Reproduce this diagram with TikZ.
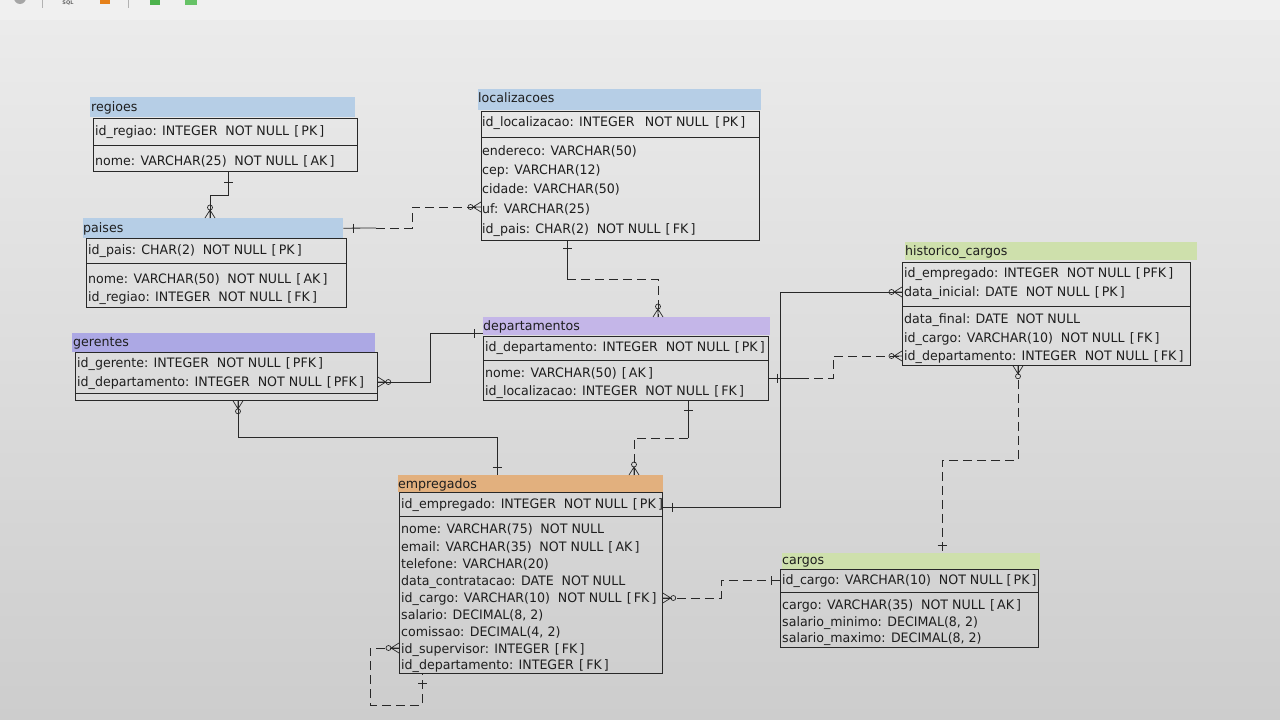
\documentclass[tikz,border=0pt]{standalone}
\usepackage{fontspec}
\setmainfont{DejaVu Sans}
\newfontfamily\rowfont[FakeStretch=0.97]{DejaVu Sans}
\usetikzlibrary{calc}
\definecolor{bgtop}{RGB}{236,236,236}
\definecolor{bgbot}{RGB}{205,205,205}
\definecolor{linec}{RGB}{40,40,40}
\definecolor{txt}{RGB}{30,30,30}
\definecolor{hblue}{RGB}{182,206,230}
\definecolor{hlav}{RGB}{196,182,232}
\definecolor{hviol}{RGB}{172,168,228}
\definecolor{horange}{RGB}{226,176,126}
\definecolor{hgreen}{RGB}{206,224,172}
\begin{document}
\begin{tikzpicture}[x=1pt,y=-1pt,
  hdr/.style={rectangle, inner sep=0, anchor=north west, draw=none},
  tbox/.style={rectangle, inner sep=0, anchor=north west, draw=linec, line width=0.8pt},
  row/.style={anchor=base west, inner sep=0, text=txt, font=\rowfont\fontsize{13}{15}\selectfont},
  sepline/.style={draw=linec, line width=0.8pt},
  conn/.style={draw=linec, line width=0.8pt},
  dconn/.style={conn, dash pattern=on 9pt off 5pt},
  crowpic/.pic={\draw[linec, line width=0.7pt] (0,-5) -- (8,0) -- (0,5) (0,0) -- (8,0); \draw[linec, line width=0.7pt] (10.5,0) circle (2.5);},
  barpic/.pic={\draw[linec, line width=0.8pt] (0,-4.5) -- (0,4.5);}
]
\useasboundingbox (0,0) rectangle (1280,720);
% background
\shade[top color=bgtop, bottom color=bgbot] (0,0) rectangle (1280,720);
\fill[white, opacity=0.25] (0,0) rectangle (1280,20);
\begin{scope}
\clip (0,0) rectangle (1280,720);
\fill[gray!70] (20,-2) circle (6);
\draw[gray!60, line width=0.8pt] (42,0) -- (42,8) (128,0) -- (128,8);
\fill[orange!60!brown] (100,0) rectangle (110,4);
\fill[green!40!gray] (150,0) rectangle (160,5);
\fill[green!60!black!60] (185,0) rectangle (197,5);
\end{scope}
\node[anchor=base, inner sep=0, font=\fontsize{5}{6}\selectfont\bfseries, text=gray!80!black] (sql) at (68,5) {SQL};

% ---------------- regioes
\node[hdr, fill=hblue, minimum width=265, minimum height=20] (regioes-h) at (90,97) {};
\node[row] (regioes-t) at (91,111) {regioes};
\node[tbox, minimum width=264, minimum height=53] (regioes) at (93,118) {};
\draw[sepline] (93,145) -- (357,145);
\node[row] (regioes-1) at (95,135) {id\_regiao: INTEGER\hspace{0.6em}NOT NULL\hspace{0.4em}[\,PK\,]};
\node[row] (regioes-2) at (95,165) {nome: VARCHAR(25)\hspace{0.6em}NOT NULL\hspace{0.4em}[\,AK\,]};

% ---------------- paises
\node[hdr, fill=hblue, minimum width=260, minimum height=20] (paises-h) at (83,218) {};
\node[row] (paises-t) at (83,232) {paises};
\node[tbox, minimum width=260, minimum height=69] (paises) at (86,238) {};
\draw[sepline] (86,263) -- (346,263);
\node[row] (paises-1) at (88,254) {id\_pais: CHAR(2)\hspace{0.6em}NOT NULL\hspace{0.4em}[\,PK\,]};
\node[row] (paises-2) at (88,283) {nome: VARCHAR(50)\hspace{0.6em}NOT NULL\hspace{0.4em}[\,AK\,]};
\node[row] (paises-3) at (88,301) {id\_regiao: INTEGER\hspace{0.6em}NOT NULL\hspace{0.4em}[\,FK\,]};

% ---------------- localizacoes
\node[hdr, fill=hblue, minimum width=283, minimum height=21] (localizacoes-h) at (478,89) {};
\node[row] (localizacoes-t) at (478,102) {localizacoes};
\node[tbox, minimum width=278, minimum height=129] (localizacoes) at (481,111) {};
\draw[sepline] (481,137) -- (759,137);
\node[row] (loc-1) at (482,126) {id\_localizacao: INTEGER\hspace{0.8em}NOT NULL\hspace{0.5em}[\,PK\,]};
\node[row] (loc-2) at (482,155) {endereco: VARCHAR(50)};
\node[row] (loc-3) at (482,174) {cep: VARCHAR(12)};
\node[row] (loc-4) at (482,193) {cidade: VARCHAR(50)};
\node[row] (loc-5) at (482,213) {uf: VARCHAR(25)};
\node[row] (loc-6) at (482,233) {id\_pais: CHAR(2)\hspace{0.6em}NOT NULL\hspace{0.4em}[\,FK\,]};

% ---------------- departamentos
\node[hdr, fill=hlav, minimum width=287, minimum height=18] (departamentos-h) at (483,317) {};
\node[row] (departamentos-t) at (483,330) {departamentos};
\node[tbox, minimum width=285, minimum height=64] (departamentos) at (483,336) {};
\draw[sepline] (483,360) -- (768,360);
\node[row] (dep-1) at (485,351) {id\_departamento: INTEGER\hspace{0.6em}NOT NULL\hspace{0.4em}[\,PK\,]};
\node[row] (dep-2) at (485,377) {nome: VARCHAR(50)\hspace{0.4em}[\,AK\,]};
\node[row] (dep-3) at (485,395) {id\_localizacao: INTEGER\hspace{0.6em}NOT NULL\hspace{0.4em}[\,FK\,]};

% ---------------- gerentes
\node[hdr, fill=hviol, minimum width=303, minimum height=19] (gerentes-h) at (72,333) {};
\node[row] (gerentes-t) at (73,346) {gerentes};
\node[tbox, minimum width=302, minimum height=48] (gerentes) at (75,352) {};
\draw[sepline] (75,393) -- (377,393);
\node[row] (ger-1) at (77,367) {id\_gerente: INTEGER\hspace{0.6em}NOT NULL\hspace{0.4em}[\,PFK\,]};
\node[row] (ger-2) at (77,386) {id\_departamento: INTEGER\hspace{0.6em}NOT NULL\hspace{0.4em}[\,PFK\,]};

% ---------------- empregados
\node[hdr, fill=horange, minimum width=265, minimum height=17] (empregados-h) at (398,475) {};
\node[row] (empregados-t) at (398,488) {empregados};
\node[tbox, minimum width=263, minimum height=181] (empregados) at (399,492) {};
\draw[sepline] (399,516) -- (662,516);
\node[row] (emp-1) at (401,508) {id\_empregado: INTEGER\hspace{0.6em}NOT NULL\hspace{0.4em}[\,PK\,]};
\node[row] (emp-2) at (401,533) {nome: VARCHAR(75)\hspace{0.6em}NOT NULL};
\node[row] (emp-3) at (401,551) {email: VARCHAR(35)\hspace{0.6em}NOT NULL\hspace{0.4em}[\,AK\,]};
\node[row] (emp-4) at (401,568) {telefone: VARCHAR(20)};
\node[row] (emp-5) at (401,585) {data\_contratacao: DATE\hspace{0.6em}NOT NULL};
\node[row] (emp-6) at (401,602) {id\_cargo: VARCHAR(10)\hspace{0.6em}NOT NULL\hspace{0.4em}[\,FK\,]};
\node[row] (emp-7) at (401,619) {salario: DECIMAL(8, 2)};
\node[row] (emp-8) at (401,636) {comissao: DECIMAL(4, 2)};
\node[row] (emp-9) at (401,653) {id\_supervisor: INTEGER\hspace{0.4em}[\,FK\,]};
\node[row] (emp-10) at (401,669) {id\_departamento: INTEGER\hspace{0.4em}[\,FK\,]};

% ---------------- historico_cargos
\node[hdr, fill=hgreen, minimum width=292, minimum height=18] (historico-h) at (905,242) {};
\node[row] (historico-t) at (905,255) {historico\_cargos};
\node[tbox, minimum width=288, minimum height=103] (historico) at (902,262) {};
\draw[sepline] (902,306) -- (1190,306);
\node[row] (his-1) at (904,277) {id\_empregado: INTEGER\hspace{0.6em}NOT NULL\hspace{0.4em}[\,PFK\,]};
\node[row] (his-2) at (904,296) {data\_inicial: DATE\hspace{0.6em}NOT NULL\hspace{0.4em}[\,PK\,]};
\node[row] (his-3) at (904,323) {data\_final: DATE\hspace{0.6em}NOT NULL};
\node[row] (his-4) at (904,342) {id\_cargo: VARCHAR(10)\hspace{0.6em}NOT NULL\hspace{0.4em}[\,FK\,]};
\node[row] (his-5) at (904,360) {id\_departamento: INTEGER\hspace{0.6em}NOT NULL\hspace{0.4em}[\,FK\,]};

% ---------------- cargos
\node[hdr, fill=hgreen, minimum width=258, minimum height=16] (cargos-h) at (782,553) {};
\node[row] (cargos-t) at (782,564) {cargos};
\node[tbox, minimum width=258, minimum height=78] (cargos) at (780,569) {};
\draw[sepline] (780,592) -- (1038,592);
\node[row] (car-1) at (782,584) {id\_cargo: VARCHAR(10)\hspace{0.6em}NOT NULL\hspace{0.3em}[\,PK\,]};
\node[row] (car-2) at (782,609) {cargo: VARCHAR(35)\hspace{0.6em}NOT NULL\hspace{0.4em}[\,AK\,]};
\node[row] (car-3) at (782,626) {salario\_minimo: DECIMAL(8, 2)};
\node[row] (car-4) at (782,642) {salario\_maximo: DECIMAL(8, 2)};

% ================= connectors
% regioes - paises
\draw[conn] (regioes.south -| 228,0) -- (228,195) -- (210,195) -- (paises-h.north -| 210,0);
\pic[rotate=-90] at ($(regioes.south -| 228,0)+(0,11)$) {barpic};
\pic[rotate=90] at (paises-h.north -| 210,0) {crowpic};

% paises - localizacoes
\draw[conn] (paises-h.east) -- (376,228);
\draw[dconn] (376,228) -- (412,228) -- (412,207) -- (localizacoes.west |- 0,207);
\pic at ($(paises-h.east)+(10,0)$) {barpic};
\pic[rotate=180] at (localizacoes.west |- 0,207) {crowpic};

% localizacoes - departamentos
\draw[conn] (localizacoes.south -| 567,0) -- (567,279);
\draw[dconn] (567,279) -- (658,279) -- (departamentos-h.north -| 658,0);
\pic[rotate=-90] at ($(localizacoes.south -| 567,0)+(0,8)$) {barpic};
\pic[rotate=90] at (departamentos-h.north -| 658,0) {crowpic};

% gerentes - departamentos
\draw[conn] (gerentes.east |- 0,382) -- (430,382) -- (430,333) -- (departamentos.west |- 0,333);
\pic at (gerentes.east |- 0,382) {crowpic};
\pic[rotate=180] at ($(departamentos.west |- 0,333)+(-9,0)$) {barpic};

% gerentes - empregados
\draw[conn] (gerentes.south -| 238,0) -- (238,437) -- (497,437) -- (empregados-h.north -| 497,0);
\pic[rotate=-90] at (gerentes.south -| 238,0) {crowpic};
\pic[rotate=90] at ($(empregados-h.north -| 497,0)+(0,-8)$) {barpic};

% departamentos - empregados
\draw[conn] (departamentos.south -| 688,0) -- (688,438);
\draw[dconn] (688,438) -- (634,438) -- (empregados-h.north -| 634,0);
\pic[rotate=-90] at ($(departamentos.south -| 688,0)+(0,10)$) {barpic};
\pic[rotate=90] at (empregados-h.north -| 634,0) {crowpic};

% empregados - historico_cargos (id_empregado)
\draw[conn] (empregados.east |- 0,507) -- (780,507) -- (780,292) -- (historico.west |- 0,292);
\pic at ($(empregados.east |- 0,507)+(10,0)$) {barpic};
\pic[rotate=180] at (historico.west |- 0,292) {crowpic};

% departamentos - historico_cargos (id_departamento)
\draw[conn] (departamentos.east |- 0,378) -- (800,378);
\draw[dconn] (800,378) -- (833,378) -- (833,356) -- (historico.west |- 0,356);
\pic at ($(departamentos.east |- 0,378)+(9,0)$) {barpic};
\pic[rotate=180] at (historico.west |- 0,356) {crowpic};

% historico_cargos - cargos
\draw[dconn] (historico.south -| 1018,0) -- (1018,460) -- (942,460) -- (cargos-h.north -| 942,0);
\pic[rotate=-90] at (historico.south -| 1018,0) {crowpic};
\pic[rotate=90] at ($(cargos-h.north -| 942,0)+(0,-8)$) {barpic};

% empregados - cargos
\draw[dconn] (empregados.east |- 0,598) -- (721,598) -- (721,580) -- (cargos.west |- 0,580);
\pic at (empregados.east |- 0,598) {crowpic};
\pic[rotate=180] at ($(cargos.west |- 0,580)+(-9,0)$) {barpic};

% empregados self (supervisor)
\draw[dconn] (empregados.west |- 0,648) -- (370,648) -- (370,705) -- (422,705) -- (empregados.south -| 422,0);
\pic[rotate=180] at (empregados.west |- 0,648) {crowpic};
\pic[rotate=-90] at ($(empregados.south -| 422,0)+(0,10)$) {barpic};
\end{tikzpicture}
\end{document}
